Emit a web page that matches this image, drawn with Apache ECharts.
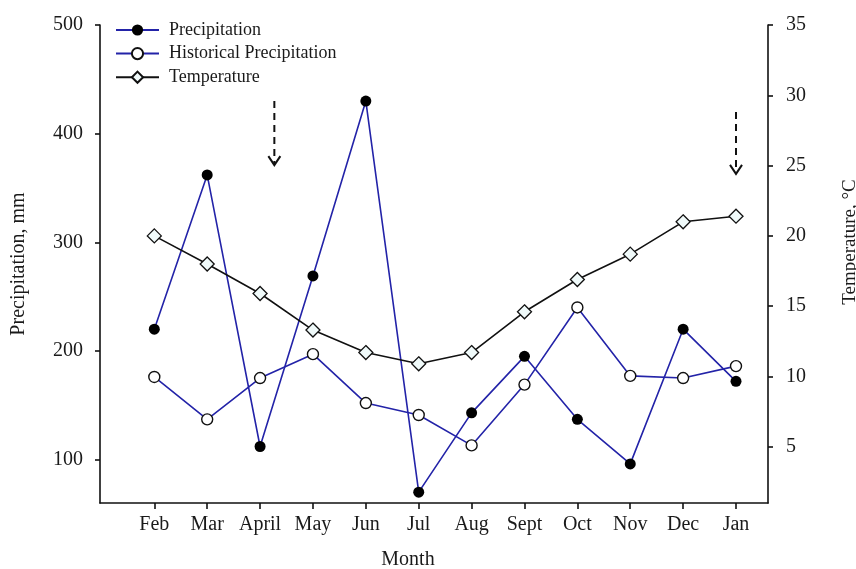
<!DOCTYPE html>
<html>
<head>
<meta charset="utf-8">
<script src="https://cdn.jsdelivr.net/npm/echarts@6/dist/echarts.min.js"></script>
<style>
  html, body { margin: 0; padding: 0; background: #ffffff; }
  #chart { width: 856px; height: 569px; }
</style>
</head>
<body>
<div id="chart"></div>
<script>
// Monthly precipitation (mm) against the historical mean, with mean temperature (°C)
const months = ['Feb', 'Mar', 'April', 'May', 'Jun', 'Jul', 'Aug', 'Sept', 'Oct', 'Nov', 'Dec', 'Jan'];
const precipitation = [220, 362, 112, 269, 430, 70, 143, 195, 137, 96, 220, 172];
const historicalPrecipitation = [176, 137, 175, 197, 152, 141, 113, 169, 240, 177, 175, 186];
const temperature = [20.0, 18.0, 15.9, 13.3, 11.7, 10.9, 11.7, 14.6, 16.9, 18.7, 21.0, 21.4];
const precipTicks = [100, 200, 300, 400, 500];
const tempTicks = [5, 10, 15, 20, 25, 30, 35];

// Dashed arrows marking the sampling months (month index, start and end on the mm scale)
const arrowMarks = [
  { month: 2.27, from: 430, to: 371 },
  { month: 11, from: 420, to: 363 }
];

const FONT = '"Liberation Serif", "Times New Roman", serif';
const TEXT = '#1a1a1a';
const BLUE = '#2323a8';
const monthIdx = months.map((m, i) => i);
const pairs = arr => arr.map((v, i) => [i, v]);

const chart = echarts.init(document.getElementById('chart'), null, { renderer: 'canvas' });

const axisLineStyle = { color: '#111', width: 1.6 };

chart.setOption({
  animation: false,
  backgroundColor: '#ffffff',
  textStyle: { fontFamily: FONT, color: TEXT },
  grid: { left: 100, right: 88, top: 25, bottom: 66, containLabel: false, outerBoundsMode: 'none' },
  legend: {
    orient: 'vertical',
    left: 115,
    top: 21,
    padding: 0,
    itemWidth: 43,
    itemHeight: 14,
    itemGap: 5.6,
    textStyle: { fontFamily: FONT, fontSize: 18, color: TEXT, padding: [0, 0, 0, 5] },
    data: ['Precipitation', 'Historical Precipitation', 'Temperature']
  },
  xAxis: {
    type: 'value',
    min: -1.027,
    max: 11.605,
    name: 'Month',
    nameLocation: 'middle',
    nameGap: 47,
    nameTextStyle: { fontFamily: FONT, fontSize: 20, color: TEXT, padding: [0, 52, 0, 0] },
    axisLine: { show: true, onZero: false, lineStyle: axisLineStyle },
    axisTick: { show: true, inside: false, length: 6, customValues: monthIdx, lineStyle: axisLineStyle },
    axisLabel: {
      customValues: monthIdx,
      formatter: v => months[Math.round(v)],
      margin: 12,
      fontFamily: FONT,
      fontSize: 20,
      color: TEXT
    },
    splitLine: { show: false }
  },
  yAxis: [
    {
      type: 'value',
      position: 'left',
      min: 60,
      max: 500,
      name: 'Precipitation, mm',
      nameLocation: 'middle',
      nameRotate: 90,
      nameGap: 71,
      nameTextStyle: { fontFamily: FONT, fontSize: 20, color: TEXT },
      axisLine: { show: true, onZero: false, lineStyle: axisLineStyle },
      axisTick: { show: true, inside: false, length: 5, customValues: precipTicks, lineStyle: axisLineStyle },
      axisLabel: { customValues: precipTicks, margin: 17, fontFamily: FONT, fontSize: 20, color: TEXT },
      splitLine: { show: false }
    },
    {
      type: 'value',
      position: 'right',
      min: 1,
      max: 35,
      name: 'Temperature, °C',
      nameLocation: 'middle',
      nameRotate: 90,
      nameGap: 73,
      nameTextStyle: { fontFamily: FONT, fontSize: 19, color: TEXT, padding: [0, 0, 0, 44] },
      axisLine: { show: true, onZero: false, lineStyle: axisLineStyle },
      axisTick: { show: true, inside: false, length: 5, customValues: tempTicks, lineStyle: axisLineStyle },
      axisLabel: { customValues: tempTicks, margin: 18, fontFamily: FONT, fontSize: 20, color: TEXT },
      splitLine: { show: false }
    }
  ],
  series: [
    {
      name: 'Historical Precipitation',
      type: 'line',
      yAxisIndex: 0,
      data: pairs(historicalPrecipitation),
      symbol: 'circle',
      symbolSize: 11,
      showAllSymbol: true,
      lineStyle: { color: BLUE, width: 1.6 },
      itemStyle: { color: '#ffffff', borderColor: '#111', borderWidth: 1.4 },
      z: 3
    },
    {
      name: 'Precipitation',
      type: 'line',
      yAxisIndex: 0,
      data: pairs(precipitation),
      symbol: 'circle',
      symbolSize: 11,
      showAllSymbol: true,
      lineStyle: { color: BLUE, width: 1.6 },
      itemStyle: { color: '#000000', borderColor: '#000000', borderWidth: 0 },
      z: 4
    },
    {
      name: 'Temperature',
      type: 'line',
      yAxisIndex: 1,
      data: pairs(temperature),
      symbol: 'diamond',
      symbolSize: 14,
      showAllSymbol: true,
      lineStyle: { color: '#111111', width: 1.6 },
      itemStyle: { color: '#f0fafa', borderColor: '#111', borderWidth: 1.3 },
      z: 5
    }
  ]
});

// Dashed down-arrows placed through the chart's own coordinate conversion
const arrowGraphics = [];
arrowMarks.forEach(a => {
  const p0 = chart.convertToPixel({ xAxisIndex: 0, yAxisIndex: 0 }, [a.month, a.from]);
  const p1 = chart.convertToPixel({ xAxisIndex: 0, yAxisIndex: 0 }, [a.month, a.to]);
  arrowGraphics.push({
    type: 'line',
    shape: { x1: p0[0], y1: p0[1], x2: p1[0], y2: p1[1] - 2 },
    style: { stroke: '#111', lineWidth: 2, lineDash: [7, 5] },
    z: 10
  });
  arrowGraphics.push({
    type: 'polyline',
    shape: { points: [[p1[0] - 6, p1[1] - 9], [p1[0], p1[1]], [p1[0] + 6, p1[1] - 9]] },
    style: { stroke: '#111', lineWidth: 2, fill: null },
    z: 10
  });
});
chart.setOption({ graphic: arrowGraphics });
</script>
</body>
</html>
